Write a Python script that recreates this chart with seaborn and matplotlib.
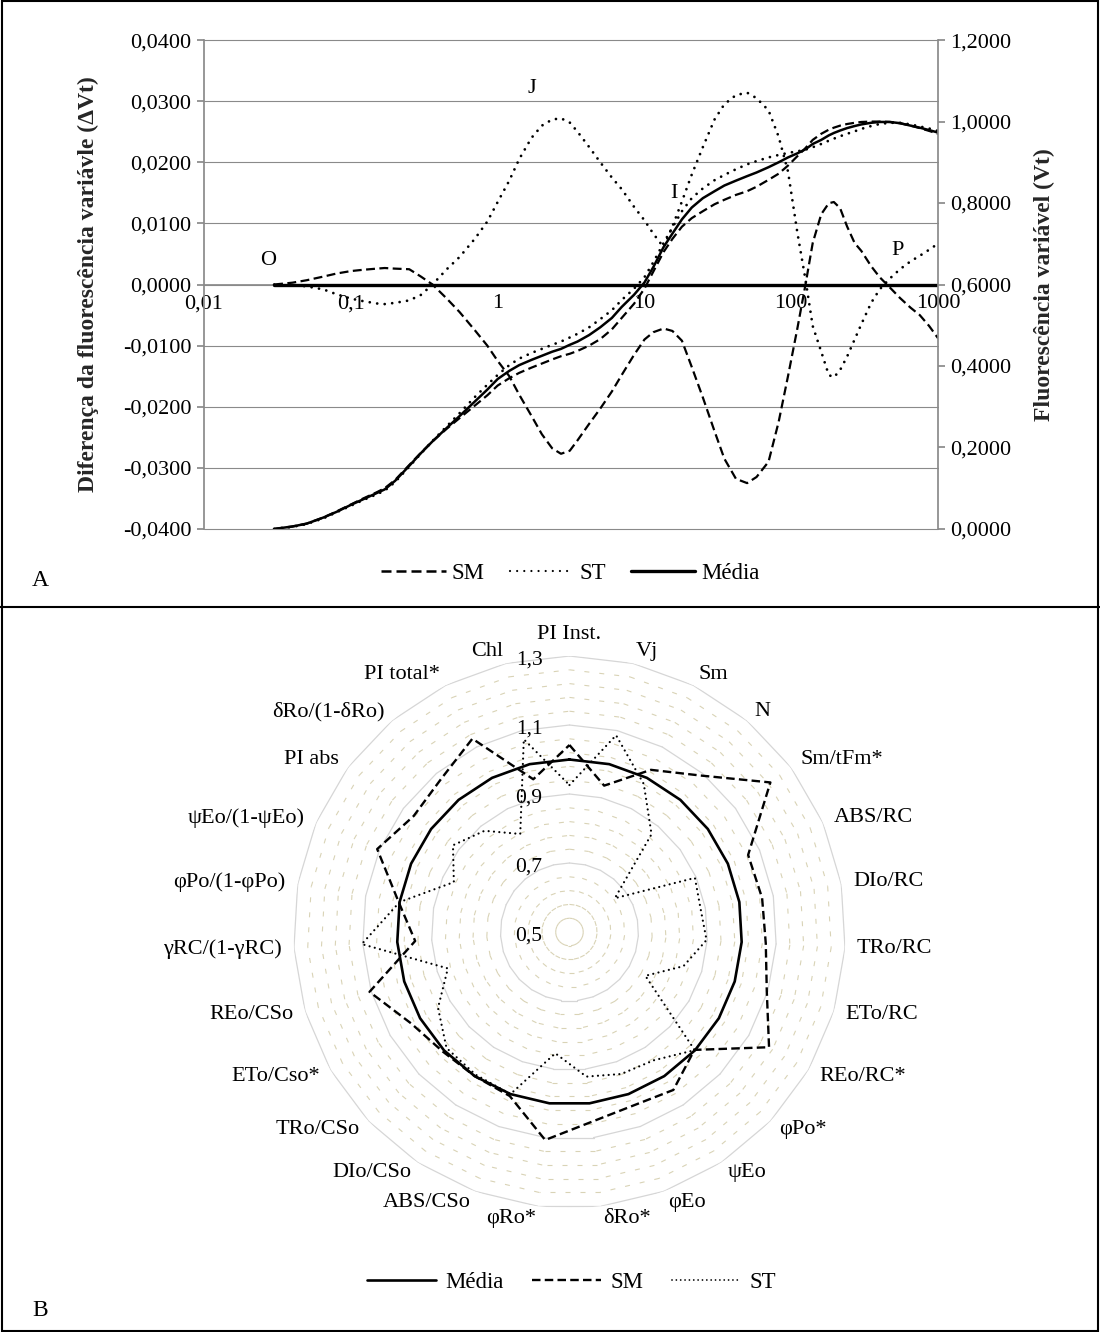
import matplotlib

matplotlib.use("Agg")

import matplotlib.pyplot as plt
import matplotlib.ticker as mticker
import matplotlib.transforms as mtransforms
import numpy as np
import seaborn as sns
from matplotlib.lines import Line2D

# ---------------- panel A: OJIP transient (time in ms) ----------------
time_ms = [
    0.03, 0.04, 0.05, 0.065, 0.08, 0.1, 0.12, 0.15,
    0.17, 0.2, 0.25, 0.3, 0.36, 0.45, 0.55, 0.7,
    0.85, 1.0, 1.2, 1.4, 1.7, 2.0, 2.35, 2.7,
    3.1, 3.5, 4.2, 5, 6, 7, 8.5, 10,
    11.5, 13.5, 15.5, 18, 21, 25, 30, 35,
    42, 50, 58, 70, 82, 95, 110, 125,
    140, 160, 180, 195, 215, 240, 270, 300,
    350, 400, 470, 550, 650, 750, 870, 1000,
]
delta_sm = [
    0.0, 0.0003, 0.0007, 0.0013, 0.0018, 0.0022, 0.0024, 0.0026,
    0.0027, 0.0026, 0.0025, 0.0013, 0.0, -0.0023, -0.0045, -0.0075,
    -0.0100, -0.0125, -0.0150, -0.0180, -0.0215, -0.0245, -0.0268, -0.0277,
    -0.0272, -0.0255, -0.0228, -0.0203, -0.0175, -0.0148, -0.0115, -0.0090,
    -0.0078, -0.0072, -0.0076, -0.0092, -0.0135, -0.0185, -0.0240, -0.0285,
    -0.0318, -0.0325, -0.0315, -0.0290, -0.0225, -0.0150, -0.0072, 0.0,
    0.0068, 0.0115, 0.0133, 0.0135, 0.0125, 0.0095, 0.0068, 0.0055,
    0.0030, 0.0012, -0.0005, -0.0022, -0.0038, -0.0050, -0.0068, -0.0088,
]
delta_st = [
    0.0, -0.0001, -0.0003, -0.0008, -0.0016, -0.0023, -0.0027, -0.0031,
    -0.0032, -0.0030, -0.0026, -0.0017, 0.0, 0.0025, 0.0045, 0.0075,
    0.0103, 0.0135, 0.0170, 0.0205, 0.0240, 0.0260, 0.0270, 0.0272,
    0.0265, 0.0250, 0.0225, 0.0200, 0.0175, 0.0156, 0.0127, 0.0105,
    0.0083, 0.0061, 0.0095, 0.0136, 0.0180, 0.0225, 0.0270, 0.0295,
    0.0310, 0.0314, 0.0305, 0.0285, 0.0242, 0.0185, 0.0085, 0.0008,
    -0.0068, -0.0110, -0.0148, -0.0152, -0.0140, -0.0118, -0.0090, -0.0065,
    -0.0030, -0.0008, 0.0010, 0.0025, 0.0038, 0.0047, 0.0057, 0.0067,
]
# the mean compared with itself: flat zero line
delta_media = [0.0] * len(time_ms)

vt_media = [
    0.000, 0.006, 0.013, 0.028, 0.042, 0.059, 0.072, 0.088,
    0.097, 0.118, 0.155, 0.186, 0.215, 0.248, 0.277, 0.313,
    0.342, 0.368, 0.388, 0.402, 0.415, 0.425, 0.435, 0.442,
    0.452, 0.460, 0.476, 0.495, 0.518, 0.545, 0.575, 0.605,
    0.643, 0.692, 0.725, 0.760, 0.789, 0.812, 0.829, 0.843,
    0.855, 0.866, 0.875, 0.888, 0.900, 0.912, 0.922, 0.932,
    0.945, 0.955, 0.966, 0.972, 0.978, 0.984, 0.989, 0.993,
    0.997, 0.999, 0.999, 0.996, 0.990, 0.985, 0.979, 0.973,
]
vt_sm = [
    0.000, 0.006, 0.013, 0.028, 0.043, 0.060, 0.074, 0.090,
    0.100, 0.120, 0.157, 0.187, 0.215, 0.246, 0.272, 0.303,
    0.328, 0.352, 0.370, 0.383, 0.396, 0.406, 0.416, 0.424,
    0.430, 0.437, 0.450, 0.466, 0.490, 0.518, 0.553, 0.590,
    0.632, 0.680, 0.712, 0.742, 0.763, 0.780, 0.797, 0.808,
    0.820, 0.829, 0.840, 0.857, 0.872, 0.892, 0.915, 0.935,
    0.955, 0.970, 0.980, 0.985, 0.990, 0.994, 0.997, 0.999,
    1.000, 1.000, 0.999, 0.996, 0.990, 0.984, 0.977, 0.970,
]
vt_st = [
    0.000, 0.005, 0.012, 0.026, 0.041, 0.057, 0.070, 0.085,
    0.094, 0.115, 0.153, 0.185, 0.216, 0.252, 0.284, 0.324,
    0.354, 0.378, 0.402, 0.418, 0.432, 0.442, 0.452, 0.460,
    0.470, 0.479, 0.495, 0.515, 0.537, 0.562, 0.590, 0.618,
    0.655, 0.702, 0.740, 0.780, 0.812, 0.836, 0.856, 0.869,
    0.883, 0.895, 0.903, 0.912, 0.918, 0.923, 0.927, 0.931,
    0.937, 0.945, 0.953, 0.958, 0.964, 0.970, 0.976, 0.982,
    0.989, 0.994, 0.997, 0.997, 0.993, 0.988, 0.983, 0.977,
]

x_ticks = [0.01, 0.1, 1, 10, 100, 1000]
x_tick_labels = ["0,01", "0,1", "1", "10", "100", "1000"]
delta_ticks = [-0.04, -0.03, -0.02, -0.01, 0.0, 0.01, 0.02, 0.03, 0.04]
delta_tick_labels = ["-0,0400", "-0,0300", "-0,0200", "-0,0100", "0,0000",
                     "0,0100", "0,0200", "0,0300", "0,0400"]
vt_ticks = [0.0, 0.2, 0.4, 0.6, 0.8, 1.0, 1.2]
vt_tick_labels = ["0,0000", "0,2000", "0,4000", "0,6000", "0,8000", "1,0000", "1,2000"]

phase_labels = ["O", "J", "I", "P"]
phase_time = [0.0273, 1.71, 15.8, 527]
phase_delta = [0.0039, 0.0321, 0.0149, 0.0056]

# ---------------- panel B: JIP-test radar (relative to the mean) ----------------
parameters = [
    "PI Inst.", "Vj", "Sm", "N", "Sm/tFm*", "ABS/RC", "DIo/RC", "TRo/RC", "ETo/RC",
    "REo/RC*", "φPo*", "ψEo", "φEo", "δRo*", "φRo*", "ABS/CSo", "DIo/CSo", "TRo/CSo",
    "ETo/Cso*", "REo/CSo", "γRC/(1-γRC)", "φPo/(1-φPo)", "ψEo/(1-ψEo)", "PI abs",
    "δRo/(1-δRo)", "PI total*", "Chl",
]
radar_media = [1.0, 1.0, 1.0, 1.0, 1.0, 1.0, 1.0, 1.0, 1.0, 1.0, 1.0, 1.0, 1.0, 1.0,
               1.0, 1.0, 1.0, 1.0, 1.0, 1.0, 1.0, 1.0, 1.0, 1.0, 1.0, 1.0, 1.0]
radar_sm = [1.042, 0.936, 1.026, 1.092, 1.226, 1.064, 1.067, 1.070, 1.097, 1.168, 0.998,
            1.048, 1.036, 1.054, 1.107, 1.006, 1.000, 1.005, 1.030, 1.105, 0.948, 1.003,
            1.107, 1.063, 1.079, 1.127, 0.955]
radar_st = [0.926, 1.086, 0.980, 0.870, 0.664, 0.896, 0.886, 0.898, 0.845, 0.754, 0.999,
            0.945, 0.938, 0.922, 0.854, 1.000, 0.995, 0.990, 0.940, 0.868, 1.103, 1.000,
            0.865, 0.921, 0.883, 0.818, 1.074]
ring_ticks = [0.5, 0.7, 0.9, 1.1, 1.3]
ring_tick_labels = ["0,5", "0,7", "0,9", "1,1", "1,3"]

# ---------------- styling ----------------
sns.set_theme(style="white")
plt.rcParams["font.family"] = ["Liberation Serif", "DejaVu Serif"]
plt.rcParams["font.size"] = 16
plt.rcParams["text.color"] = "black"
plt.rcParams["xtick.color"] = "black"
plt.rcParams["ytick.color"] = "black"

GRID = "#8a8a8a"
DASH = (0, (4, 2))
DOT = (0, (0.01, 2.7))

fig = plt.figure(figsize=(11, 13.32), dpi=100)

# ---- panel A ----
ax = fig.add_axes([0.1855, 0.6029, 0.6673, 0.3670])
ax.set_xscale("log")
sns.lineplot(x=time_ms, y=delta_media, ax=ax, color="black", lw=2.4, zorder=3)
sns.lineplot(x=time_ms, y=delta_sm, ax=ax, color="black", lw=1.6, linestyle=DASH, zorder=3)
sns.lineplot(x=time_ms, y=delta_st, ax=ax, color="black", lw=2.0, linestyle=DOT,
             dash_capstyle="round", zorder=3)
ax.set_xlim(0.01, 1000)
ax.set_ylim(-0.04, 0.04)
ax.set_xticks(x_ticks)
ax.set_xticklabels(x_tick_labels)
ax.xaxis.set_minor_locator(mticker.NullLocator())
ax.set_yticks(delta_ticks)
ax.set_yticklabels(delta_tick_labels)
ax.yaxis.grid(True, color=GRID, lw=0.8)
ax.xaxis.grid(False)
ax.set_axisbelow(True)
for gl in ax.get_ygridlines():
    gl.set_clip_on(False)
ax.spines["top"].set_visible(False)
ax.spines["right"].set_visible(False)
ax.spines["left"].set_color(GRID)
ax.spines["bottom"].set_position(("data", 0))
ax.spines["bottom"].set_color(GRID)
ax.tick_params(axis="x", direction="out", length=4, color=GRID, pad=3, labelsize=16)
ax.tick_params(axis="y", direction="out", length=5, color=GRID, pad=4, labelsize=16)
ax.set_ylabel("Diferença da fluorescência variávle (ΔVt)", fontweight="bold", fontsize=17)
ax.yaxis.set_label_coords(-0.143, 0.5)
for lab, t, v in zip(phase_labels, phase_time, phase_delta):
    ax.text(t, v, lab, ha="center", va="center", fontsize=16)

ax2 = ax.twinx()
sns.lineplot(x=time_ms, y=vt_sm, ax=ax2, color="black", lw=1.6, linestyle=DASH)
sns.lineplot(x=time_ms, y=vt_st, ax=ax2, color="black", lw=2.0, linestyle=DOT,
             dash_capstyle="round")
sns.lineplot(x=time_ms, y=vt_media, ax=ax2, color="black", lw=1.8)
ax2.set_ylim(0, 1.2)
ax2.set_yticks(vt_ticks)
ax2.set_yticklabels(vt_tick_labels)
ax2.grid(False)
for side in ["top", "left", "bottom"]:
    ax2.spines[side].set_visible(False)
ax2.spines["right"].set_color(GRID)
ax2.tick_params(axis="y", direction="out", length=5, color=GRID, pad=4, labelsize=16)
ax2.set_ylabel("Fluorescência variável (Vt)", fontweight="bold", fontsize=17, rotation=90)
ax2.yaxis.set_label_coords(1.131, 0.5)

legend_a = [
    Line2D([], [], color="black", lw=1.8, linestyle=DASH),
    Line2D([], [], color="black", lw=1.6, linestyle=(0, (0.01, 3.2)), dash_capstyle="round"),
    Line2D([], [], color="black", lw=2.4),
]
fig.legend(legend_a, ["SM", "ST", "Média"], loc="center", bbox_to_anchor=(0.5186, 0.5698),
           ncol=3, frameon=False, fontsize=16.5, handlelength=2.8, handletextpad=0.25,
           columnspacing=1.1)

# ---- panel B ----
angles = np.linspace(0, 2 * np.pi, len(parameters), endpoint=False)
edge_end = np.append(angles[1:], 2 * np.pi)

rax = fig.add_axes([0.2668, 0.0931, 0.5018, 0.4144], projection="polar")
rax.set_theta_zero_location("N")
rax.set_theta_direction(-1)
rax.set_ylim(0.5, 1.3)
rax.grid(False)
rax.set_xticks([])
rax.set_yticks([])
rax.spines["polar"].set_visible(False)


def polygon_ring(level, **style):
    # one segment per edge so every edge starts with its own dash, as in the original
    for a0, a1 in zip(angles, edge_end):
        rax.plot([a0, a1], [level, level], **style)


minor_levels = [lv for lv in np.round(np.arange(0.54, 1.29, 0.04), 2) if lv not in ring_ticks]
for lv in minor_levels:
    polygon_ring(lv, color="#d9d3b6", lw=0.8, linestyle=(0, (4.5, 9)), zorder=1)
for lv in ring_ticks[1:]:
    polygon_ring(lv, color="#d6d6d6", lw=0.9, zorder=1)

closed_angles = np.append(angles, angles[0])
rax.plot(closed_angles, np.append(radar_media, radar_media[0]), color="black", lw=1.9, zorder=3)
rax.plot(closed_angles, np.append(radar_sm, radar_sm[0]), color="black", lw=1.7,
         linestyle=(0, (3.6, 1.8)), zorder=3)
rax.plot(closed_angles, np.append(radar_st, radar_st[0]), color="black", lw=1.6,
         linestyle=(0, (0.01, 2.4)), dash_capstyle="round", zorder=3)

ring_offset = mtransforms.offset_copy(rax.transData, x=-27, y=-4, units="dots")
for lv, lab in zip(ring_ticks, ring_tick_labels):
    rax.text(0, lv, lab, transform=ring_offset, ha="right", va="center", fontsize=15.5)

for ang, name in zip(angles, parameters):
    s = np.sin(ang)
    if abs(s) < 1e-6:
        ha, va = "center", ("bottom" if np.cos(ang) > 0 else "top")
    else:
        ha, va = ("left" if s > 0 else "right"), "center"
    rax.text(ang, 1.335, name, ha=ha, va=va, fontsize=16, clip_on=False)

legend_b = [
    Line2D([], [], color="black", lw=1.9),
    Line2D([], [], color="black", lw=1.7, linestyle=(0, (3.6, 1.8))),
    Line2D([], [], color="black", lw=1.3, linestyle=(0, (0.01, 2.4)), dash_capstyle="round"),
]
fig.legend(legend_b, ["Média", "SM", "ST"], loc="center", bbox_to_anchor=(0.52, 0.0375),
           ncol=3, frameon=False, fontsize=16.5, handlelength=3.0, handletextpad=0.4,
           columnspacing=1.25)

# ---- frame, divider and panel letters ----
fig.add_artist(plt.Rectangle((0.0015, 0.001), 0.997, 0.998, transform=fig.transFigure,
                             fill=False, ec="black", lw=1.5))
fig.add_artist(Line2D([0, 1], [0.5443, 0.5443], transform=fig.transFigure, color="black", lw=1.5))
fig.text(40 / 1100, 1 - 580 / 1332, "A", ha="center", va="center", fontsize=17)
fig.text(40 / 1100, 1 - 1310 / 1332, "B", ha="center", va="center", fontsize=17)

fig.savefig("out.png", dpi=100)
